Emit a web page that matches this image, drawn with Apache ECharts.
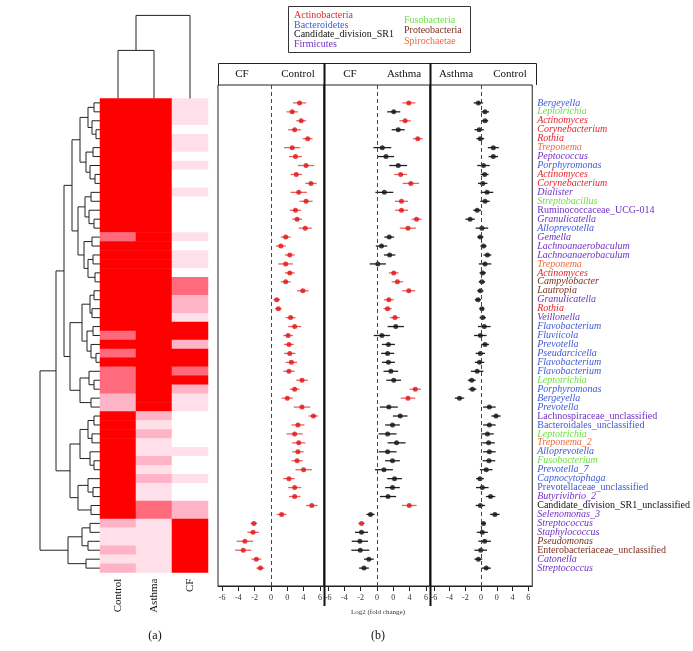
<!DOCTYPE html>
<html>
<head>
<meta charset="utf-8">
<script src="https://cdn.jsdelivr.net/npm/echarts@6/dist/echarts.min.js"></script>
<style>
  html, body { margin: 0; padding: 0; background: #fff; }
  #main { width: 693px; height: 651px; }
</style>
</head>
<body>
<div id="main"></div>
<script>
// genera (rows, top to bottom) and their phylum code
var genera = ['Bergeyella','Leptotrichia','Actinomyces','Corynebacterium','Rothia','Treponema','Peptococcus','Porphyromonas','Actinomyces','Corynebacterium',
  'Dialister','Streptobacillus','Ruminococcaceae_UCG-014','Granulicatella','Alloprevotella','Gemella','Lachnoanaerobaculum','Lachnoanaerobaculum','Treponema','Actinomyces',
  'Campylobacter','Lautropia','Granulicatella','Rothia','Veillonella','Flavobacterium','Fluviicola','Prevotella','Pseudarcicella','Flavobacterium',
  'Flavobacterium','Leptotrichia','Porphyromonas','Bergeyella','Prevotella','Lachnospiraceae_unclassified','Bacteroidales_unclassified','Leptotrichia','Treponema_2','Alloprevotella',
  'Fusobacterium','Prevotella_7','Capnocytophaga','Prevotellaceae_unclassified','Butyrivibrio_2','Candidate_division_SR1_unclassified','Selenomonas_3','Streptococcus','Staphylococcus','Pseudomonas',
  'Enterobacteriaceae_unclassified','Catonella','Streptococcus'];
// 0 Actinobacteria, 1 Bacteroidetes, 2 Candidate_division_SR1, 3 Firmicutes, 4 Fusobacteria, 5 Proteobacteria, 6 Spirochaetae
var phylumOf = [1,4,0,0,0,6,3,1,0,0, 3,4,3,3,1,3,3,3,6,0, 5,5,3,0,3,1,1,1,1,1, 1,4,1,1,1,3,1,4,6,1, 4,1,1,1,3,2,3,3,3,5, 5,3,3];
var phyla = ['Actinobacteria','Bacteroidetes','Candidate_division_SR1','Firmicutes','Fusobacteria','Proteobacteria','Spirochaetae'];
var phylaColors = ['#e8232b','#3f5ad8','#111111','#7232c4','#6fe043','#7a2e1e','#f26a3a'];

// heatmap levels (0 white .. 4 red), columns Control, Asthma, CF
var heatCols = ['Control','Asthma','CF'];
var heatControl = [4,4,4,4,4,4,4,4,4,4, 4,4,4,4,4,3,4,4,4,4, 4,4,4,4,4,4,3,4,3,4, 3,3,3,2,2, 4,4,4,4,4,4,4,4,4,4,4,4, 2,1,1,2,1,2];
var heatAsthma  = [4,4,4,4,4,4,4,4,4,4, 4,4,4,4,4,4,4,4,4,4, 4,4,4,4,4,4,4,4,4,4, 4,4,4,4,4, 2,1,2,1,1,2,1,2,1,1,3,3, 1,1,1,1,1,1];
var heatCF      = [1,1,1,0,1,1,0,1,0,0, 1,0,0,0,0,1,0,1,1,0, 3,3,2,2,1,4,4,2,4,4, 3,4,2,1,1, 0,0,0,0,1,0,0,1,0,0,2,2, 4,4,4,4,4,4];

// row dendrogram: [height, left, right], leaves = row numbers
var rowTree = [60,
  [44,
    [36,
      [28,
        [20, [12,[6,1,2],[8,3,[4,4,5]]], [14,[7,6,7],[10,8,[5,9,10]]]],
        [22, [15,[9,11,12],[11,13,[6,14,15]]], [16,[8,16,17],[12,[7,18,19],[5,20,21]]]]],
      [30,
        [18, [10,[6,22,23],[8,24,25]], [13,[7,26,27],[9,28,[4,29,30]]]],
        [20, [11,31,[6,32,33]], [9,34,35]]]],
    [30, [20,[12,[6,36,37],[8,38,39]],[10,40,[6,41,42]]], [22,[12,43,[7,44,45]],[9,46,47]]]],
  [32, [18,[10,48,49],[12,50,51]], [14,52,53]]];
// column dendrogram: leaves 0 Control, 1 Asthma, 2 CF
var colTree = [83, [48, 0, 1], 2];

// forest plots: log2 fold change and half-width of the interval
var cfCtrlVal = [3.5,2.6,3.7,2.9,4.5,2.6,3.0,4.3,3.1,4.9, 3.4,4.3,3.0,3.2,4.2,1.8,1.2,2.3,1.8,2.3, 1.8,3.9,0.7,0.9,2.4,2.9,2.1,2.2,2.3,2.5, 2.2,3.8,2.9,2.0,3.8,5.2,3.3,2.9,3.4,3.3, 3.2,4.0,2.2,2.9,2.9,5.0,1.3,-2.1,-2.2,-3.2, -3.4,-1.8,-1.3];
var cfCtrlErr = [0.8,0.7,0.6,0.8,0.6,1.0,0.8,1.0,0.7,0.7, 1.0,0.8,0.7,0.6,0.8,0.6,0.6,0.6,0.9,0.6, 0.6,0.7,0.4,0.4,0.6,0.8,0.6,0.6,0.7,0.7, 0.7,0.7,0.6,0.7,1.0,0.6,0.8,1.0,0.8,0.7, 0.7,1.0,0.7,0.8,0.7,0.7,0.6,0.4,0.7,1.0, 1.0,0.6,0.5];
var cfAsthVal = [3.9,2.05,3.45,2.6,5.0,0.65,1.1,2.6,2.9,4.15, 0.9,3.0,3.0,4.85,3.8,1.5,0.55,1.55,0.1,2.05, 2.5,3.9,1.45,1.3,2.2,2.3,0.6,1.4,1.3,1.4, 1.7,2.05,4.7,3.8,1.45,2.85,1.9,1.3,2.4,1.3, 1.9,0.85,2.15,1.9,1.35,3.95,-0.8,-1.9,-1.9,-2.1, -2.05,-1.0,-1.6];
var cfAsthErr = [0.8,0.8,0.7,0.8,0.6,1.1,1.0,1.1,0.8,1.0, 1.1,0.8,0.8,0.6,1.0,0.6,0.7,0.7,1.0,0.6, 0.7,0.8,0.6,0.5,0.6,1.0,1.0,0.8,0.8,0.8, 0.9,0.9,0.7,0.9,1.1,0.9,0.9,1.1,1.1,1.1, 0.9,1.1,0.9,0.9,1.0,0.9,0.5,0.4,0.8,1.0, 1.1,0.6,0.6];
var cfAsthSig = [1,0,1,0,1,0,0,0,1,1, 0,1,1,1,1,0,0,0,0,1, 1,1,1,1,1,0,0,0,0,0, 0,0,1,1,0,0,0,0,0,0, 0,0,0,0,0,1,0,1,0,0, 0,0,0];
var asCtrlVal = [-0.35,0.5,0.5,-0.25,-0.1,1.55,1.55,0.3,0.45,0.2, 0.75,0.5,-0.5,-1.4,0.1,-0.1,0.3,0.8,0.5,0.2, 0.1,-0.1,-0.4,0.1,0.2,0.4,-0.1,0.5,-0.1,-0.2, -0.5,-1.2,-1.1,-2.75,1.05,1.9,1.05,0.8,0.95,1.05, 1.0,0.65,-0.15,0.15,1.2,-0.1,1.75,0.3,0.15,0.45, -0.05,-0.35,0.65];
var asCtrlErr = [0.6,0.5,0.4,0.6,0.5,0.7,0.6,0.8,0.5,0.6, 0.8,0.6,0.5,0.6,0.8,0.4,0.4,0.5,0.8,0.4, 0.4,0.4,0.4,0.3,0.4,0.8,0.8,0.5,0.6,0.6, 0.8,0.5,0.5,0.6,0.8,0.6,0.8,0.8,0.8,0.8, 0.8,0.8,0.5,0.8,0.6,0.6,0.6,0.3,0.7,0.8, 0.8,0.5,0.6];

var xTicks = [-6,-4,-2,0,2,4,6];
var xTickText = ['-6','-4','-2','0','0','4','6'];

var serif = 'Liberation Serif';
var chart = echarts.init(document.getElementById('main'));

function layoutTree(node, out) {
  if (typeof node === 'number') return { pos: node, h: 0 };
  var a = layoutTree(node[1], out), b = layoutTree(node[2], out);
  out.push([node[0], a.pos, b.pos, a.h, b.h]);
  return { pos: (a.pos + b.pos) / 2, h: node[0] };
}
var rowLinks = []; layoutTree(rowTree, rowLinks);
var colLinks = []; layoutTree(colTree, colLinks);
colLinks = colLinks.map(function (d) { return [d[0], d[1] + 0.5, d[2] + 0.5, d[3], d[4]]; });

function renderLink(horizontal) {
  return function (params, api) {
    var h = api.value(0), pa = api.value(1), pb = api.value(2), ha = api.value(3), hb = api.value(4);
    var pts = horizontal
      ? [api.coord([ha, pa]), api.coord([h, pa]), api.coord([h, pb]), api.coord([hb, pb])]
      : [api.coord([pa, ha]), api.coord([pa, h]), api.coord([pb, h]), api.coord([pb, hb])];
    return { type: 'polyline', shape: { points: pts }, style: { stroke: '#222', fill: null, lineWidth: 1 } };
  };
}

var heatData = [];
[heatControl, heatAsthma, heatCF].forEach(function (col, c) {
  col.forEach(function (v, r) { heatData.push([c, r, v]); });
});

// rich styles for row labels
var rich = {};
phylaColors.forEach(function (c, i) {
  rich['i' + i] = { color: c, fontStyle: 'italic', fontFamily: serif, fontSize: 10 };
  rich['n' + i] = { color: c, fontStyle: 'normal', fontFamily: serif, fontSize: 10 };
});
function rowLabel(v) {
  var r = Math.round(v) - 1;
  if (r < 0 || r >= genera.length) return '';
  var name = genera[r];
  var upright = /unclassified|UCG/.test(name);
  return '{' + (upright ? 'n' : 'i') + phylumOf[r] + '|' + name + '}';
}

var rows = genera.map(function (g, i) { return i + 1; });
var panelLeft = [218, 324, 430];
var grids = [
  { left: 20, top: 98.4, width: 80, height: 474.2 },      // row dendrogram
  { left: 100, top: 98.4, width: 108, height: 474.2 },    // heatmap
  { left: 100, top: 10, width: 108, height: 88.4 }        // column dendrogram
];
panelLeft.forEach(function (l) {
  grids.push({ left: l, top: 85, width: 106, height: 501, show: true, borderColor: '#222', borderWidth: 1, backgroundColor: 'transparent' });
});

var xAxes = [
  { gridIndex: 0, type: 'value', min: 0, max: 80, inverse: true, show: false },
  { gridIndex: 1, type: 'category', data: heatCols, axisLine: { show: false }, axisTick: { show: false },
    axisLabel: { rotate: 90, fontFamily: serif, fontSize: 11, color: '#111', margin: 6 } },
  { gridIndex: 2, type: 'value', min: 0, max: 3, show: false }
];
var yAxes = [
  { gridIndex: 0, type: 'value', min: 0.5, max: 53.5, inverse: true, show: false },
  { gridIndex: 1, type: 'category', data: rows, inverse: true, show: false },
  { gridIndex: 2, type: 'value', min: 0, max: 88.4, show: false }
];
[3, 4, 5].forEach(function (g, k) {
  xAxes.push({
    gridIndex: g, type: 'value', min: -6.5, max: 6.5,
    splitLine: { show: false },
    axisLine: { show: true, onZero: false, lineStyle: { color: '#222', width: 1 } },
    axisTick: { show: true, length: 5, lineStyle: { color: '#222', width: 1 }, customValues: xTicks },
    axisLabel: { customValues: xTicks, fontFamily: serif, fontSize: 8, color: '#333', margin: 8,
      formatter: function (v) { return xTickText[xTicks.indexOf(v)]; } }
  });
  yAxes.push(k < 2
    ? { gridIndex: g, type: 'value', min: -1, max: 55, inverse: true, show: false }
    : { gridIndex: g, type: 'value', min: -1, max: 55, interval: 1, inverse: true, position: 'right',
        splitLine: { show: false }, axisLine: { show: false, onZero: false }, axisTick: { show: false },
        axisLabel: { margin: 5, formatter: rowLabel, rich: rich, showMinLabel: true, showMaxLabel: true } });
});

function errBars(vals, errs, axis, colorFn) {
  return {
    type: 'custom', xAxisIndex: axis, yAxisIndex: axis, z: 2,
    data: vals.map(function (v, i) { return [v, i + 1, errs[i], i]; }),
    renderItem: function (params, api) {
      var v = api.value(0), r = api.value(1), e = api.value(2);
      var a = api.coord([v - e, r]), b = api.coord([v + e, r]);
      return { type: 'line', shape: { x1: a[0], y1: a[1], x2: b[0], y2: b[1] },
        style: { stroke: colorFn(api.value(3), true), lineWidth: 1.3 } };
    }
  };
}
function dots(vals, axis, colorFn) {
  return {
    type: 'scatter', xAxisIndex: axis, yAxisIndex: axis, z: 3, symbolSize: 5,
    data: vals.map(function (v, i) { return [v, i + 1]; }),
    itemStyle: { color: function (p) { return colorFn(p.dataIndex, false); } },
    markLine: { silent: true, symbol: 'none', label: { show: false },
      lineStyle: { type: [4, 3], color: '#444', width: 1 }, data: [{ xAxis: 0 }] }
  };
}
var redFn = function (i, bar) { return bar ? 'rgba(232,40,40,0.75)' : '#e01010'; };
var blackFn = function (i, bar) { return bar ? '#222' : '#111'; };
var sigFn = function (i, bar) { return cfAsthSig[i] ? redFn(i, bar) : blackFn(i, bar); };

var graphics = [
  // legend box
  { type: 'rect', shape: { x: 288.5, y: 6.5, width: 182, height: 46 }, style: { fill: 'none', stroke: '#333', lineWidth: 1 } }
];
var legendPos = [[294, 15.7], [294, 25.3], [294, 34.7], [294, 44.3], [404, 20], [404, 30.7], [404, 41.3]];
phyla.forEach(function (p, i) {
  graphics.push({ type: 'text', x: legendPos[i][0], y: legendPos[i][1],
    style: { text: p, fill: phylaColors[i], font: '10px "' + serif + '"', textVerticalAlign: 'middle' } });
});
// panel headers
var headers = [['CF', 242], ['Control', 298], ['CF', 350], ['Asthma', 404], ['Asthma', 456], ['Control', 510]];
headers.forEach(function (h) {
  graphics.push({ type: 'text', x: h[1], y: 74,
    style: { text: h[0], fill: '#111', font: '11px "' + serif + '"', textAlign: 'center', textVerticalAlign: 'middle' } });
});
// frame round the headers and the thick panel dividers
graphics.push({ type: 'polyline', shape: { points: [[218.5, 85], [218.5, 63.5], [536.5, 63.5], [536.5, 85]] }, style: { fill: 'none', stroke: '#222', lineWidth: 1 } });
[324.5, 430.5].forEach(function (x) {
  graphics.push({ type: 'line', shape: { x1: x, y1: 63, x2: x, y2: 606 }, style: { stroke: '#111', lineWidth: 2 } });
});
graphics.push({ type: 'text', x: 378, y: 612, style: { text: 'Log2 (fold change)', fill: '#333', font: '7px "' + serif + '"', textAlign: 'center', textVerticalAlign: 'middle' } });
graphics.push({ type: 'text', x: 155, y: 636, style: { text: '(a)', fill: '#111', font: '12px "' + serif + '"', textAlign: 'center', textVerticalAlign: 'middle' } });
graphics.push({ type: 'text', x: 378, y: 636, style: { text: '(b)', fill: '#111', font: '12px "' + serif + '"', textAlign: 'center', textVerticalAlign: 'middle' } });

chart.setOption({
  animation: false,
  backgroundColor: '#fff',
  grid: grids,
  xAxis: xAxes,
  yAxis: yAxes,
  visualMap: {
    show: false, type: 'piecewise', seriesIndex: 1, dimension: 2,
    pieces: [
      { value: 0, color: '#ffffff' },
      { value: 1, color: '#ffe0ea' },
      { value: 2, color: '#ffb3c7' },
      { value: 3, color: '#ff6b7c' },
      { value: 4, color: '#ff0000' }
    ]
  },
  graphic: graphics,
  series: [
    { type: 'custom', xAxisIndex: 0, yAxisIndex: 0, data: rowLinks, renderItem: renderLink(true) },
    { type: 'heatmap', xAxisIndex: 1, yAxisIndex: 1, data: heatData },
    { type: 'custom', xAxisIndex: 2, yAxisIndex: 2, data: colLinks, renderItem: renderLink(false) },
    errBars(cfCtrlVal, cfCtrlErr, 3, redFn),
    dots(cfCtrlVal, 3, redFn),
    errBars(cfAsthVal, cfAsthErr, 4, sigFn),
    dots(cfAsthVal, 4, sigFn),
    errBars(asCtrlVal, asCtrlErr, 5, blackFn),
    dots(asCtrlVal, 5, blackFn)
  ]
});
</script>
</body>
</html>
